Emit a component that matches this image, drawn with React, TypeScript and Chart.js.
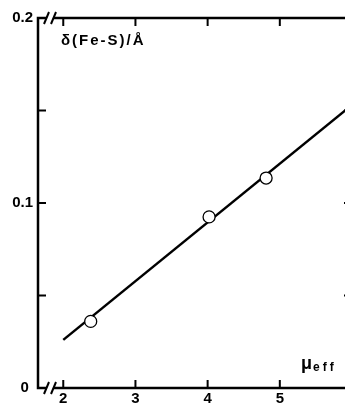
import React, { useEffect, useRef } from "react";
import { Chart, registerables } from "chart.js";

Chart.register(...registerables);

// Measured data points (mu_eff, delta(Fe-S) / Å)
const muEff = [2.38, 4.02, 4.81];
const deltaFeS = [0.036, 0.0925, 0.1135];
// Fitted straight line end points
const fitX = [2.0, 6.0];
const fitY = [0.026, 0.153];
// Tick values and labels
const xTicks = [2, 3, 4, 5];
const yTicks = [0, 0.05, 0.1, 0.15, 0.2];
const yTickLabels = ["0 ", "", "0.1", "", "0.2"];
const yTitle = "δ(Fe-S)/Å";
const xTitleMain = "μ";
const xTitleSub = "eff";

const CW = 360;
const CH = 405;
const FONT = "'Liberation Sans', Arial, sans-serif";

const axesPlugin = {
  id: "paperAxes",
  beforeDatasetsDraw(chart: any) {
    const { ctx, chartArea: a, scales } = chart;
    const xs = scales.x;
    const ys = scales.y;
    ctx.save();
    ctx.strokeStyle = "#000";
    ctx.lineCap = "square";
    ctx.lineWidth = 2.5;
    // frame
    ctx.beginPath();
    ctx.moveTo(a.left, a.top);
    ctx.lineTo(a.right, a.top);
    ctx.lineTo(a.right, a.bottom);
    ctx.lineTo(a.left, a.bottom);
    ctx.closePath();
    ctx.stroke();
    // inward ticks
    ctx.lineWidth = 2;
    ctx.lineCap = "butt";
    const tl = 8;
    ctx.beginPath();
    for (const v of xTicks) {
      const px = xs.getPixelForValue(v);
      ctx.moveTo(px, a.bottom);
      ctx.lineTo(px, a.bottom - tl);
      ctx.moveTo(px, a.top);
      ctx.lineTo(px, a.top + tl);
    }
    for (const v of yTicks) {
      const py = ys.getPixelForValue(v);
      ctx.moveTo(a.left, py);
      ctx.lineTo(a.left + tl, py);
      ctx.moveTo(a.right, py);
      ctx.lineTo(a.right - tl, py);
    }
    ctx.stroke();
    // axis breaks
    const gx0 = a.left + 8;
    const gx1 = a.left + 16;
    for (const yy of [a.top, a.bottom]) {
      ctx.fillStyle = "#fff";
      ctx.fillRect(gx0, yy - 3, gx1 - gx0, 6);
      ctx.lineWidth = 2;
      ctx.beginPath();
      ctx.moveTo(gx0 - 2, yy + 6);
      ctx.lineTo(gx0 + 3, yy - 6);
      ctx.moveTo(gx1 - 3, yy + 6);
      ctx.lineTo(gx1 + 2, yy - 6);
      ctx.stroke();
    }
    // titles
    ctx.fillStyle = "#000";
    ctx.textBaseline = "middle";
    ctx.textAlign = "left";
    ctx.font = `bold 15px ${FONT}`;
    (ctx as any).letterSpacing = "2px";
    ctx.fillText(yTitle, 61, 41);
    (ctx as any).letterSpacing = "0px";
    ctx.font = `bold 18px ${FONT}`;
    ctx.fillText(xTitleMain, 301, 364);
    ctx.font = `bold 12px ${FONT}`;
    (ctx as any).letterSpacing = "3px";
    ctx.fillText(xTitleSub, 313, 368);
    (ctx as any).letterSpacing = "0px";
    ctx.restore();
  },
};

export default function App() {
  const ref = useRef<HTMLCanvasElement>(null);
  useEffect(() => {
    if (!ref.current) return;
    const chart = new Chart(ref.current, {
      type: "scatter",
      data: {
        datasets: [
          {
            type: "line",
            data: fitX.map((x, i) => ({ x, y: fitY[i] })),
            borderColor: "#000",
            borderWidth: 2.5,
            pointRadius: 0,
            fill: false,
            order: 2,
          } as any,
          {
            data: muEff.map((x, i) => ({ x, y: deltaFeS[i] })),
            backgroundColor: "#fff",
            borderColor: "#000",
            borderWidth: 1.3,
            pointRadius: 6,
            order: 1,
          },
        ],
      },
      options: {
        responsive: false,
        animation: false,
        events: [],
        layout: { padding: { top: 18, right: 8, left: 0, bottom: 0 } },
        plugins: { legend: { display: false }, tooltip: { enabled: false } },
        scales: {
          x: {
            type: "linear",
            min: 1.65,
            max: 6.0,
            grid: { display: false, drawTicks: false },
            border: { display: false },
            afterFit: (s: any) => {
              s.height = 17;
            },
            afterBuildTicks: (s: any) => {
              s.ticks = xTicks.map((v) => ({ value: v }));
            },
            ticks: {
              padding: 2,
              color: "#000",
              font: { family: FONT, size: 15, weight: "bold" },
              callback: (v: any) => String(v),
            },
          },
          y: {
            type: "linear",
            min: 0,
            max: 0.2,
            grid: { display: false, drawTicks: false },
            border: { display: false },
            afterFit: (s: any) => {
              s.width = 38;
            },
            afterBuildTicks: (s: any) => {
              s.ticks = yTicks.map((v) => ({ value: v }));
            },
            ticks: {
              padding: 5,
              color: "#000",
              font: { family: FONT, size: 15, weight: "bold" },
              callback: (_v: any, i: number) => yTickLabels[i],
            },
          },
        },
      },
      plugins: [axesPlugin],
    });
    return () => chart.destroy();
  }, []);
  return (
    <div
      style={{
        position: "absolute",
        left: 0,
        top: 0,
        width: 345,
        height: 405,
        overflow: "hidden",
        background: "#fff",
      }}
    >
      <canvas ref={ref} width={CW} height={CH} style={{ width: CW, height: CH, display: "block" }} />
    </div>
  );
}
